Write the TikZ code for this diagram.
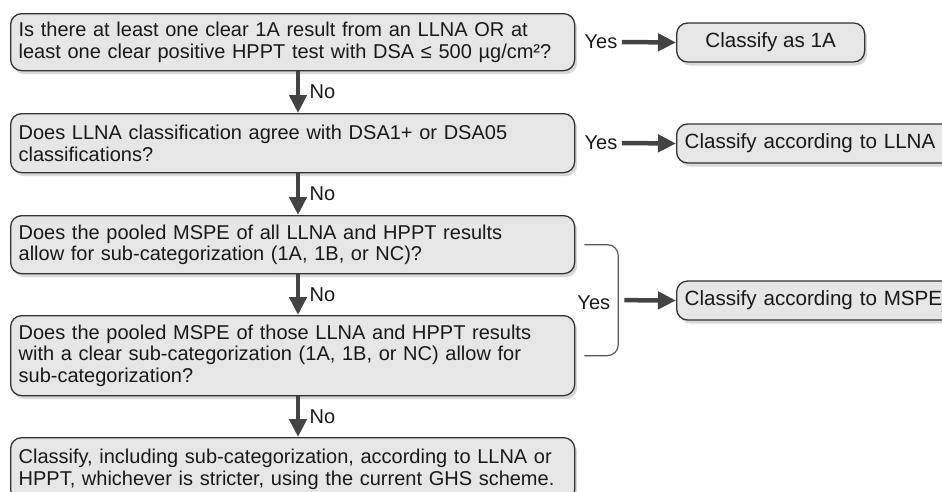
\documentclass[tikz,border=0pt]{standalone}
\usepackage{fontspec}
\setmainfont{Liberation Sans}
\usetikzlibrary{arrows.meta,shadows,calc}
\definecolor{boxfill}{HTML}{E6E6E6}
\definecolor{boxline}{HTML}{333333}
\definecolor{arrowgray}{HTML}{444444}
\tikzset{
	question/.style={draw=boxline, line width=1.3pt, fill=boxfill, rounded corners=11pt,
		anchor=north west, text width=548pt, inner xsep=8pt, inner ysep=1pt, align=left,
		minimum width=564pt, drop shadow={shadow xshift=2.5pt, shadow yshift=-3.5pt, opacity=0.3}},
	answer/.style={draw=boxline, line width=1.3pt, fill=boxfill, rounded corners=11pt,
		anchor=west, inner xsep=8pt, minimum height=39pt, font=\fontsize{20.6}{22}\selectfont,
		drop shadow={shadow xshift=2.5pt, shadow yshift=-3.5pt, opacity=0.3}},
	wideanswer/.style={answer, text width=262pt, align=left},
	flowarrow/.style={draw=arrowgray, line width=4.5pt, -{Triangle[length=18pt,width=17pt]}},
	bracket/.style={draw=arrowgray!90, line width=1.2pt, rounded corners=11pt},
}
\begin{document}
\begin{tikzpicture}[x=1pt, y=-1pt, font=\fontsize{20}{21.5}\selectfont, text=black!90]
		%%%%% START %%%%%
		\clip (0, 0) rectangle (942, 491);
		
		\node[question, minimum height=57pt] (q1) at (10, 13)
			{Is there at least one clear 1A result from an LLNA OR at\\least one clear positive HPPT test with DSA \symbol{"2264} 500 \symbol{"B5}g/cm\symbol{"B2}?};
		\node[question, minimum height=59pt] (q2) at (10, 113)
			{Does LLNA classification agree with DSA1+ or DSA05\\classifications?};
		\node[question, minimum height=58pt] (q3) at (10, 215)
			{Does the pooled MSPE of all LLNA and HPPT results\\allow for sub-categorization (1A, 1B, or NC)?};
		\node[question, minimum height=80pt] (q4) at (10, 315)
			{Does the pooled MSPE of those LLNA and HPPT results\\with a clear sub-categorization (1A, 1B, or NC) allow for\\sub-categorization?};
		\node[question, minimum height=63pt] (q5) at (10, 437)
			{Classify, including sub-categorization, according to LLNA or\\HPPT, whichever is stricter, using the current GHS scheme.};
		
		\node[answer, minimum width=188pt] (a1) at (676, 42.5) {Classify as 1A};
		\node[wideanswer] (a2) at (676, 143.5) {Classify according to LLNA};
		\node[wideanswer] (a3) at (676, 300.5) {Classify according to MSPE};
		
		% yes branches
		\node (yes1) at (601, 42) {Yes};
		\node (yes2) at (601, 143) {Yes};
		\draw[flowarrow] ([xshift=1pt]yes1.east) -- (a1.west);
		\draw[flowarrow] ([xshift=1pt]yes2.east) -- (a2.west);
		
		\draw[bracket] ([xshift=9pt]q3.east) -- ++(34, 0) |- ([xshift=9pt]q4.east);
		\coordinate (bk) at ($([xshift=43pt]q3.east)!0.5!([xshift=43pt]q4.east)$);
		\node[anchor=east, inner xsep=2pt] (yes3) at ([xshift=-6pt, yshift=-3pt]bk) {Yes};
		\draw[flowarrow] ([xshift=6pt]bk) -- (a3.west);
		
		% no branches
		\foreach \from/\to in {q1/q2, q2/q3, q3/q4, q4/q5}
			\draw[flowarrow] ([xshift=288pt]\from.south west) -- ([xshift=288pt]\to.north west)
				node[midway, right=6pt] {No};
		
		%%%%% END %%%%%
\end{tikzpicture}
\end{document}
